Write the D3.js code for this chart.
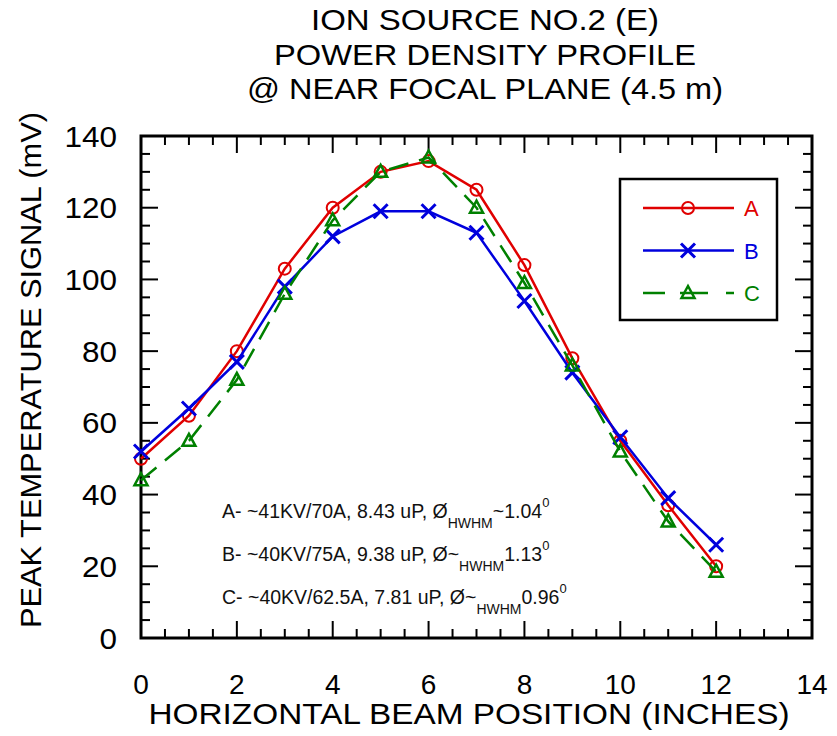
<!DOCTYPE html>
<html>
<head>
<meta charset="utf-8">
<script src="https://cdn.jsdelivr.net/npm/d3@7"></script>
<style>
  body { margin: 0; background: #fff; }
  text { font-family: "Liberation Sans", Arial, sans-serif; }
</style>
</head>
<body>
<div id="chart"></div>
<script>
// data
const positions = [0, 1, 2, 3, 4, 5, 6, 7, 8, 9, 10, 11, 12];
const seriesA = [50, 62, 80, 103, 120, 130, 133, 125, 104, 78, 55, 37, 20];
const seriesB = [52, 64, 77, 98, 112, 119, 119, 113, 94, 74, 56, 39, 26];
const seriesC = [44, 55, 72, 96, 116.5, 130, 134, 120, 99, 76, 52, 32.5, 18.5];
const seriesNames = ['A', 'B', 'C'];
const xTicks = [0, 2, 4, 6, 8, 10, 12, 14];
const yTicks = [0, 20, 40, 60, 80, 100, 120, 140];
const titleLines = ['ION SOURCE NO.2 (E)', 'POWER DENSITY PROFILE', '@ NEAR FOCAL PLANE (4.5 m)'];
const notes = [
  { pre: 'A- ~41KV/70A, 8.43 uP, Ø', sub: 'HWHM', post: '~1.04' },
  { pre: 'B- ~40KV/75A, 9.38 uP, Ø~', sub: 'HWHM', post: '1.13' },
  { pre: 'C- ~40KV/62.5A, 7.81 uP, Ø~', sub: 'HWHM', post: '0.96' }
];

const W = 837, H = 736;
const margin = {top: 136, right: 25, bottom: 98, left: 141};
const width = W - margin.left - margin.right;
const height = H - margin.top - margin.bottom;

const svg = d3.select('#chart').append('svg')
  .attr('width', W)
  .attr('height', H);

const g = svg.append('g')
  .attr('transform', `translate(${margin.left},${margin.top})`);

const xScale = d3.scaleLinear().domain([0, 14]).range([0, width]);
const yScale = d3.scaleLinear().domain([0, 140]).range([height, 0]);

// title
const titleLen = [348, 422, 476];
const titleY = [30, 64.5, 99];
svg.append('g').selectAll('text')
  .data(titleLines)
  .join('text')
  .attr('x', 485)
  .attr('y', (d, i) => titleY[i])
  .attr('text-anchor', 'middle')
  .attr('textLength', (d, i) => titleLen[i])
  .attr('lengthAdjust', 'spacingAndGlyphs')
  .style('font-size', '29px')
  .text(d => d);

// ticks, inside, mirrored on all sides
const xMinor = d3.range(0, 14.01, 0.5);
const yMinor = d3.range(0, 140.01, 5);
const isMajorX = v => Math.abs(v / 2 - Math.round(v / 2)) < 1e-6;
const isMajorY = v => v % 20 === 0;

const axisX = (sel, bottom) => sel.selectAll('line')
  .data(xMinor)
  .join('line')
  .attr('x1', d => xScale(d))
  .attr('x2', d => xScale(d))
  .attr('y1', bottom ? height : 0)
  .attr('y2', d => (bottom ? height : 0) + (bottom ? -1 : 1) * (isMajorX(d) ? 17 : 9))
  .attr('stroke', '#000')
  .attr('stroke-width', 2);

const axisY = (sel, left) => sel.selectAll('line')
  .data(yMinor)
  .join('line')
  .attr('y1', d => yScale(d))
  .attr('y2', d => yScale(d))
  .attr('x1', left ? 0 : width)
  .attr('x2', d => (left ? 0 : width) + (left ? 1 : -1) * (isMajorY(d) ? 17 : 9))
  .attr('stroke', '#000')
  .attr('stroke-width', 2);

g.append('g').call(axisX, true);
g.append('g').call(axisX, false);
g.append('g').call(axisY, true);
g.append('g').call(axisY, false);

g.append('rect')
  .attr('width', width)
  .attr('height', height)
  .attr('fill', 'none')
  .attr('stroke', '#000')
  .attr('stroke-width', 3);

// tick labels
g.append('g').selectAll('text')
  .data(xTicks)
  .join('text')
  .attr('x', d => xScale(d))
  .attr('y', height + 56)
  .attr('text-anchor', 'middle')
  .style('font-size', '28px')
  .text(d => d);

g.append('g').selectAll('text')
  .data(yTicks)
  .join('text')
  .attr('x', -24)
  .attr('y', d => yScale(d) + 10.5)
  .attr('text-anchor', 'end')
  .attr('textLength', d => String(d).length * 17.5)
  .attr('lengthAdjust', 'spacingAndGlyphs')
  .style('font-size', '29px')
  .text(d => d);

// axis titles
svg.append('text')
  .attr('x', 469)
  .attr('y', 724)
  .attr('text-anchor', 'middle')
  .attr('textLength', 641)
  .attr('lengthAdjust', 'spacingAndGlyphs')
  .style('font-size', '30px')
  .text('HORIZONTAL BEAM POSITION (INCHES)');

svg.append('text')
  .attr('transform', 'translate(41,370) rotate(-90)')
  .attr('text-anchor', 'middle')
  .attr('textLength', 516)
  .attr('lengthAdjust', 'spacingAndGlyphs')
  .style('font-size', '30px')
  .text('PEAK TEMPERATURE SIGNAL (mV)');

// series
const series = [
  { name: seriesNames[0], values: seriesA, color: '#e00000', dash: null, marker: 'circle' },
  { name: seriesNames[1], values: seriesB, color: '#0000dd', dash: null, marker: 'cross' },
  { name: seriesNames[2], values: seriesC, color: '#008000', dash: '20,11', marker: 'triangle' }
];

const line = d3.line()
  .x(d => xScale(d[0]))
  .y(d => yScale(d[1]));

const drawMarker = (sel, type, color) => {
  if (type === 'circle') {
    sel.append('circle').attr('r', 6)
      .attr('fill', 'none').attr('stroke', color).attr('stroke-width', 2);
  } else if (type === 'cross') {
    sel.append('path').attr('d', 'M-7,-7L7,7M-7,7L7,-7')
      .attr('fill', 'none').attr('stroke', color).attr('stroke-width', 3);
  } else {
    sel.append('path').attr('d', 'M0,-7L6.5,5L-6.5,5Z')
      .attr('fill', 'none').attr('stroke', color).attr('stroke-width', 2.5);
  }
};

series.forEach(s => {
  const pts = positions.map((p, i) => [p, s.values[i]]);
  g.append('path')
    .datum(pts)
    .attr('d', line)
    .attr('fill', 'none')
    .attr('stroke', s.color)
    .attr('stroke-width', 2.5)
    .attr('stroke-dasharray', s.dash);
  g.append('g').selectAll('g')
    .data(pts)
    .join('g')
    .attr('transform', d => `translate(${xScale(d[0])},${yScale(d[1])})`)
    .each(function () { drawMarker(d3.select(this), s.marker, s.color); });
});

// legend
const legend = svg.append('g');
legend.append('rect')
  .attr('x', 620).attr('y', 179)
  .attr('width', 157).attr('height', 141)
  .attr('fill', '#fff')
  .attr('stroke', '#000')
  .attr('stroke-width', 2.5);

series.forEach((s, i) => {
  const y = 208 + i * 42.5;
  const row = legend.append('g');
  row.append('line')
    .attr('x1', 643).attr('x2', 734)
    .attr('y1', y).attr('y2', y)
    .attr('stroke', s.color)
    .attr('stroke-width', 2.5)
    .attr('stroke-dasharray', s.dash ? '22,15,28,18' : null);
  drawMarker(row.append('g').attr('transform', `translate(688,${y})`), s.marker, s.color);
  row.append('text')
    .attr('x', 744).attr('y', y + 8)
    .attr('fill', s.color)
    .style('font-size', '22px')
    .text(s.name);
});

// annotations
const ann = svg.append('g');
notes.forEach((n, i) => {
  const t = ann.append('text')
    .attr('x', 222)
    .attr('y', 518 + i * 43)
    .style('font-size', '19.5px')
    .attr('fill', '#111');
  t.append('tspan').text(n.pre);
  t.append('tspan').attr('dy', 10).style('font-size', '14px').text(n.sub);
  t.append('tspan').attr('dy', -10).text(n.post);
  t.append('tspan').attr('dy', -11).style('font-size', '13px').text('0');
});
</script>
</body>
</html>
